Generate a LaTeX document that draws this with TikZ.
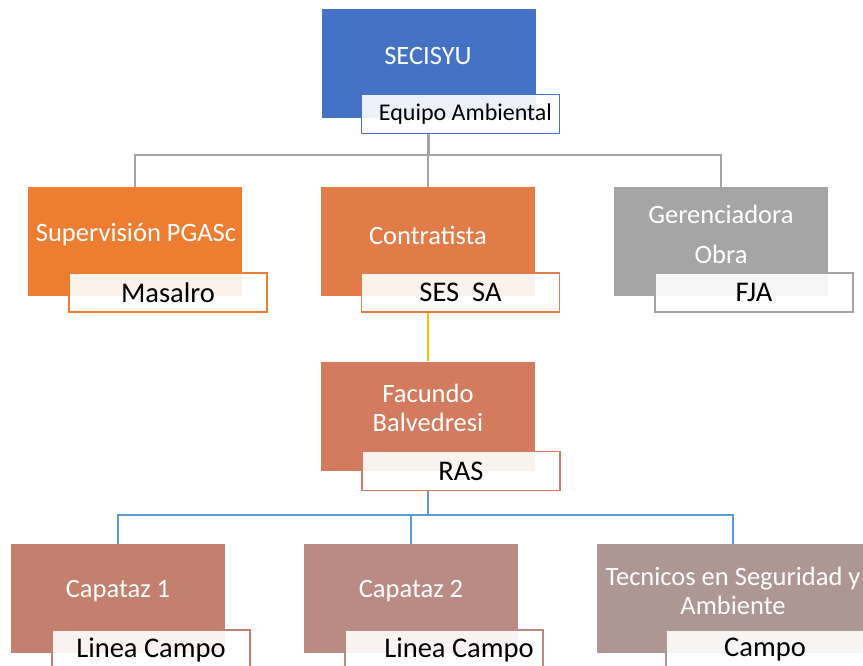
\documentclass[tikz,border=0pt]{standalone}
\usepackage{fontspec}
\setmainfont{Carlito}
\definecolor{cBlue}{HTML}{4472C4}
\definecolor{cOrA}{HTML}{ED7D31}
\definecolor{cOrB}{HTML}{E17B47}
\definecolor{cGray}{HTML}{A5A5A5}
\definecolor{cFac}{HTML}{D27B5E}
\definecolor{cCap1}{HTML}{C4806F}
\definecolor{cCap2}{HTML}{B98B82}
\definecolor{cTec}{HTML}{AE9693}
\definecolor{cYel}{HTML}{FFC000}
\definecolor{cLBlue}{HTML}{5B9BD5}
\tikzset{
  orgbox/.style={rectangle, inner sep=0pt, minimum width=214pt, minimum height=109pt, draw=none},
  maintext/.style={text=white, align=center, inner sep=0pt, font=\fontsize{26.5}{29}\selectfont},
  lblbox/.style={rectangle, inner sep=0pt, minimum width=198pt, minimum height=39pt, line width=1.8pt, fill=white, fill opacity=0.9, text opacity=1, text=black, font=\fontsize{28.5}{30}\selectfont},
  gline/.style={draw=cGray, line width=2.6pt},
  yline/.style={draw=cYel, line width=2.2pt},
  bline/.style={draw=cLBlue, line width=2.6pt}
}
\begin{document}
\begin{tikzpicture}[x=1pt,y=-1pt]
\useasboundingbox (0,0) rectangle (863,666);
% level 1
\node[orgbox, fill=cBlue] (sec) at (428.5,63.5) {};
\node[maintext] (secT) at (428,56) {SECISYU};
\node[lblbox, draw=cBlue, font=\fontsize{24}{26}\selectfont] (secL) at (460.5,114) {\hspace*{10pt}Equipo Ambiental};
% level 2
\node[orgbox, fill=cOrA] (sup) at (135,241.5) {};
\node[maintext] (supT) at (136,235) {Supervisión PGASc};
\node[lblbox, draw=cOrA] (supL) at (168,292.5) {Masalro};

\node[orgbox, fill=cOrB] (con) at (428,241.5) {};
\node[maintext] (conT) at (428,235) {Contratista};
\node[lblbox, draw=cOrB] (conL) at (460.5,292.5) {SES\ \ SA};

\node[orgbox, fill=cGray] (ger) at (721,241.5) {};
\node[maintext] (gerT) at (721,234) {Gerenciadora\\[11pt]Obra};
\node[lblbox, draw=cGray] (gerL) at (754,292.5) {FJA};

% level 3
\node[orgbox, fill=cFac] (fac) at (428,416) {};
\node[maintext] (facT) at (428,408) {Facundo\\Balvedresi};
\node[lblbox, draw=cFac] (facL) at (461,471) {RAS};

% level 4
\node[orgbox, fill=cCap1] (cap1) at (118,598.5) {};
\node[maintext] (cap1T) at (118,591) {Capataz 1};
\node[lblbox, draw=cCap1] (cap1L) at (151,649.5) {Linea Campo};

\node[orgbox, fill=cCap2] (cap2) at (411,598.5) {};
\node[maintext] (cap2T) at (411,591) {Capataz 2};
\node[lblbox, draw=cCap2] (cap2L) at (444,649.5) {\hspace*{30pt}Linea Campo};

\node[orgbox, fill=cTec, minimum width=272pt] (tec) at (733,598.5) {};
\node[maintext] (tecT) at (733,591) {Tecnicos en Seguridad y\\Ambiente};
\node[lblbox, draw=cTec] (tecL) at (765,649.5) {Campo};

% connectors
\draw[gline] (secL.south -| sec.south) -- (sec.south |- 0,155) -| (sup.north);
\draw[gline] (secL.south -| sec.south) -- (sec.south |- 0,155) -| (con.north);
\draw[gline] (secL.south -| sec.south) -- (sec.south |- 0,155) -| (ger.north);
\draw[yline] (conL.south -| con.north) -- (fac.north);
\draw[bline] (facL.south -| fac.north) -- (fac.north |- 0,515) -| (cap1.north);
\draw[bline] (facL.south -| fac.north) -- (fac.north |- 0,515) -| (cap2.north);
\draw[bline] (facL.south -| fac.north) -- (fac.north |- 0,515) -| (tec.north);
\end{tikzpicture}
\end{document}
